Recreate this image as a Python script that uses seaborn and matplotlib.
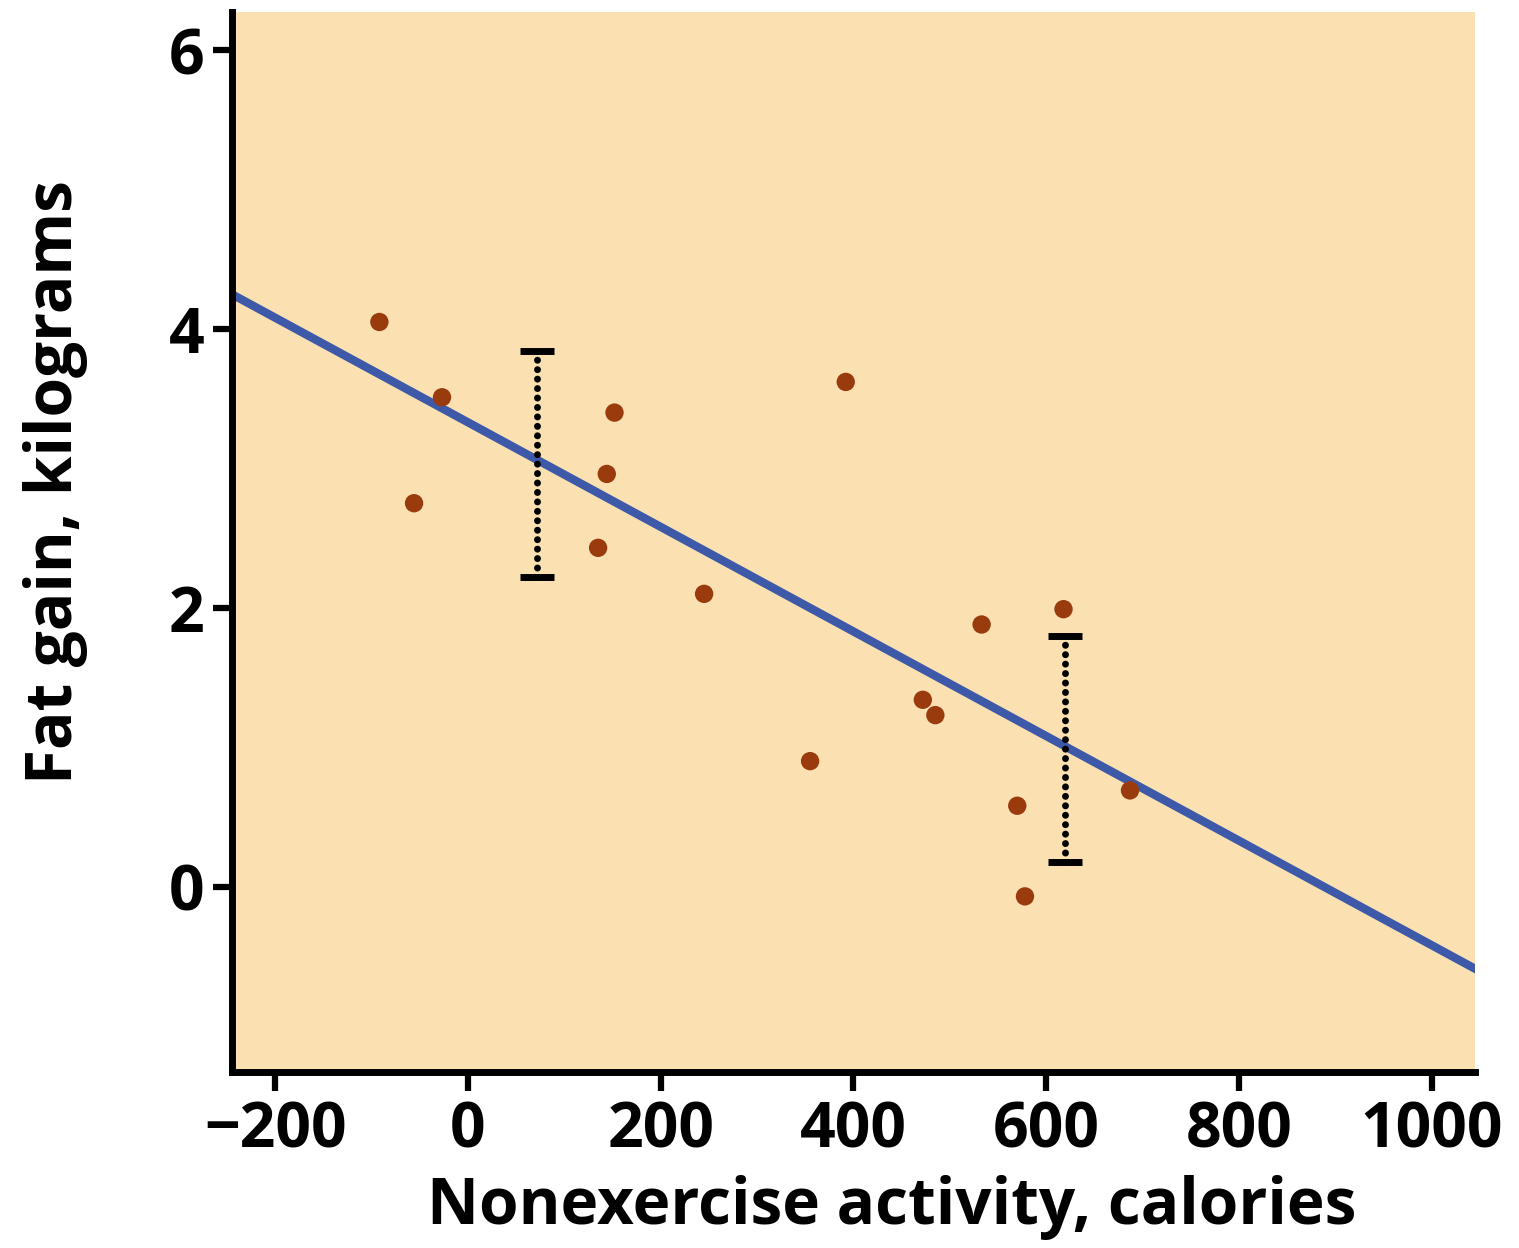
import numpy as np
import pandas as pd
import matplotlib
matplotlib.use("Agg")
import matplotlib.pyplot as plt
import seaborn as sns

# Data
activity = [-92, -27, -56, 152, 144, 135, 245, 392, 355, 472, 485, 533, 618, 570, 578, 687]
fat_gain = [4.05, 3.51, 2.75, 3.40, 2.96, 2.43, 2.10, 3.62, 0.90, 1.34, 1.23, 1.88, 1.99, 0.58, -0.07, 0.69]

fit_x = [-245, 1050]
fit_intercept = 3.33
fit_slope = -0.00375

err_x = [72, 620]
err_center = [3.03, 0.99]
err_half = [0.81, 0.81]

x_ticks = [-200, 0, 200, 400, 600, 800, 1000]
y_ticks = [0, 2, 4, 6]

sns.set_theme(style="white")
plt.rcParams['font.family'] = ['Open Sans', 'DejaVu Sans']
plt.rcParams.update({"text.color": "black", "axes.labelcolor": "black",
                     "xtick.color": "black", "ytick.color": "black"})

fig = plt.figure(figsize=(15.19, 12.48), dpi=100)
ax = fig.add_axes([0.1527, 0.141, 0.971 - 0.1527, 0.990 - 0.141])
ax.set_facecolor("#FBE1B1")

df = pd.DataFrame({"x": activity, "y": fat_gain})
line_df = pd.DataFrame({"x": fit_x, "y": [fit_intercept + fit_slope * v for v in fit_x]})

sns.lineplot(data=line_df, x="x", y="y", ax=ax, color="#3D59A8", linewidth=6, zorder=2)
sns.scatterplot(data=df, x="x", y="y", ax=ax, color="#9A3B0E", s=175, edgecolor="none", zorder=3)

eb = ax.errorbar(err_x, err_center, yerr=err_half, fmt="none", ecolor="black",
                 elinewidth=5, capsize=12, capthick=5, zorder=4)
for lc in eb[2]:
    lc.set_linestyle((0, (0.01, 1.35)))
    lc.set_capstyle("round")

ax.set_xlim(-245, 1045)
ax.set_ylim(-1.33, 6.27)
ax.set_xticks(x_ticks)
ax.set_xticklabels(["\u2212200" if t == -200 else str(t) for t in x_ticks])
ax.set_yticks(y_ticks)

for s in ["top", "right"]:
    ax.spines[s].set_visible(False)
for s in ["left", "bottom"]:
    ax.spines[s].set_visible(True)
    ax.spines[s].set_color("black")
    ax.spines[s].set_linewidth(5)

ax.tick_params(axis="both", which="major", length=14, width=4.5, color="black",
               labelsize=45, labelcolor="black", direction="out", bottom=True, left=True, pad=6)
for lab in ax.get_xticklabels() + ax.get_yticklabels():
    lab.set_fontweight("bold")

ax.set_xlabel("Nonexercise activity, calories", fontsize=46, fontweight="bold")
ax.set_ylabel("Fat gain, kilograms", fontsize=46, fontweight="bold")
ax.xaxis.set_label_coords(0.531, -0.097)
ax.yaxis.set_label_coords(-0.116, 0.557)

fig.savefig("out.png", dpi=100, facecolor="white")
